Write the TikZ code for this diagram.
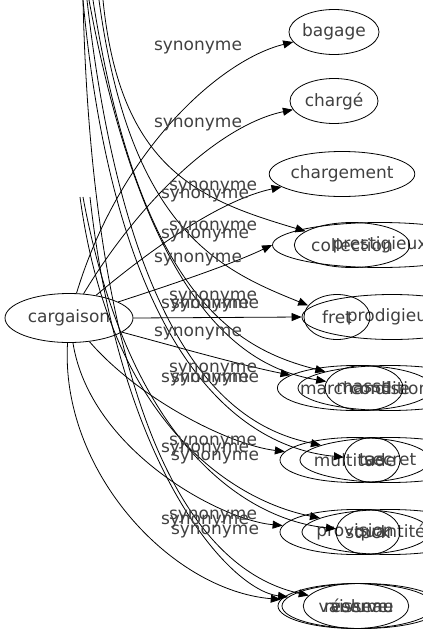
\documentclass[tikz,border=0pt]{standalone}
\usepackage{fontspec}
\setmainfont{DejaVu Sans}
\usetikzlibrary{shapes.geometric,arrows.meta}

\tikzset{
  syn/.style={draw, ellipse, minimum height=45pt, inner sep=0pt, text=black!75, font=\fontsize{17}{19}\selectfont},
  lbl/.style={inner sep=0pt, text=black!75, font=\fontsize{17}{19}\selectfont},
  arr/.style={-{Triangle[length=10pt,width=8pt]}, thick},
  tail/.style={thick}
}

\begin{document}
\begin{tikzpicture}[x=1pt,y=-1pt,thick]
  \useasboundingbox (0,0) rectangle (423,635);
  % nodes
  \node[syn, minimum width=128pt, minimum height=49pt] (cargaison) at (69,318) {cargaison};
  \node[syn, minimum width=88pt] (bagage) at (334,32) {bagage};
  \node[syn, minimum width=88pt] (charge) at (334,101) {chargé};
  \node[syn, minimum width=110pt] (chargement) at (342,174) {chargement};
  \node[syn, minimum width=215pt] (prestigieux) at (380,245) {prestigieux};
  \node[syn, minimum width=100pt] (collection) at (352,245) {collection};
  \node[syn, minimum width=180pt] (prodigieux) at (392,317) {prodigieux};
  \node[syn, minimum width=66pt] (fret) at (337,317) {fret};
  \node[syn, minimum width=150pt] (marchandise) at (355,388) {marchandise};
  \node[syn, minimum width=184pt] (condition) at (390,388) {condition};
  \node[syn, minimum width=62pt] (masse) at (364,388) {masse};
  \node[syn, minimum width=150pt] (multitude) at (355,460) {multitude};
  \node[syn, minimum width=180pt] (secret) at (390,460) {secret};
  \node[syn, minimum width=56pt] (tas) at (372,460) {tas};
  \node[syn, minimum width=150pt] (provision) at (355,532) {provision};
  \node[syn, minimum width=176pt] (quantite) at (390,532) {quantité};
  \node[syn, minimum width=56pt] (stock) at (368,532) {stock};
  \node[syn, minimum width=156pt] (reserve) at (356,606) {réserve};
  \node[syn, minimum width=160pt] (volume) at (362,606) {volume};
  \node[syn, minimum width=68pt] (vaisseau) at (356,606) {vaisseau};
  % free ends of the edges coming from above
  \coordinate (t1) at (83,0);
  \coordinate (t2) at (87,0);
  \coordinate (t3) at (89,0);
  \coordinate (t4) at (93,0);
  \coordinate (t5) at (99,0);
  \coordinate (t6) at (103,0);
  \coordinate (m1) at (80,197);
  \coordinate (m2) at (83,197);
  \coordinate (m3) at (90,197);
  % edges from cargaison
  \draw[arr] (cargaison) .. controls (120,150) and (220,60) .. (bagage);
  \draw[arr] (cargaison) .. controls (140,200) and (220,125) .. (charge);
  \draw[arr] (cargaison) .. controls (150,250) and (220,200) .. (chargement);
  \draw[arr] (cargaison) .. controls (170,285) and (230,265) .. (prestigieux.west);
  \draw[arr] (cargaison.east) -- (prodigieux.west);
  \draw[arr] (cargaison) .. controls (170,345) and (240,365) .. (marchandise);
  \draw[arr] (cargaison) .. controls (140,400) and (230,445) .. (multitude);
  \draw[arr] (cargaison) .. controls (90,450) and (220,520) .. (provision);
  \draw[arr] (cargaison) .. controls (60,470) and (170,590) .. (reserve);
  % edges from above
  \draw[arr] (t6) .. controls (120,170) and (200,200) .. (collection);
  \draw[arr] (t5) .. controls (130,230) and (220,270) .. (fret);
  \draw[arr] (t4) .. controls (140,300) and (240,350) .. (condition);
  \draw[arr] (t3) .. controls (150,330) and (260,370) .. (masse);
  \draw[arr] (t2) .. controls (130,380) and (250,430) .. (secret);
  \draw[arr] (t1) .. controls (120,400) and (270,450) .. (tas);
  \draw[arr] (m1) .. controls (110,420) and (230,500) .. (quantite);
  \draw[arr] (m2) .. controls (130,450) and (250,520) .. (stock);
  \draw[arr] (m3) .. controls (120,470) and (230,590) .. (volume);
  \draw[arr] (t1) .. controls (90,300) and (150,560) .. (vaisseau);
  % labels
  \node[lbl] (l1) at (198,48) {synonyme};
  \node[lbl] (l2) at (198,125) {synonyme};
  \node[lbl] (l3) at (213,188) {synonyme};
  \node[lbl] (l4) at (205,196) {synonyme};
  \node[lbl] (l5) at (213,228) {synonyme};
  \node[lbl] (l6) at (205,236) {synonyme};
  \node[lbl] (l7) at (198,260) {synonyme};
  \node[lbl] (l8) at (213,298) {synonyme};
  \node[lbl] (l9) at (205,306) {synonyme};
  \node[lbl] (l10) at (215,306) {synonyme};
  \node[lbl] (l11) at (198,334) {synonyme};
  \node[lbl] (l12) at (213,370) {synonyme};
  \node[lbl] (l13) at (205,380) {synonyme};
  \node[lbl] (l14) at (215,380) {synonyme};
  \node[lbl] (l15) at (213,443) {synonyme};
  \node[lbl] (l16) at (205,450) {synonyme};
  \node[lbl] (l17) at (215,458) {synonyme};
  \node[lbl] (l18) at (213,517) {synonyme};
  \node[lbl] (l19) at (205,522) {synonyme};
  \node[lbl] (l20) at (215,532) {synonyme};
\end{tikzpicture}
\end{document}
